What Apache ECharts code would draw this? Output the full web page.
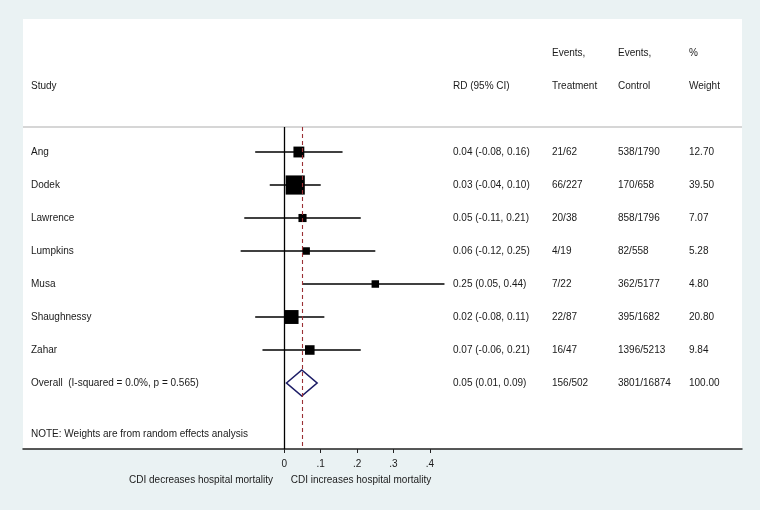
<!DOCTYPE html>
<html>
<head>
<meta charset="utf-8">
<script src="https://cdn.jsdelivr.net/npm/echarts@6/dist/echarts.min.js"></script>
<style>
html,body{margin:0;padding:0;background:#eaf2f3;}
#chart{width:760px;height:510px;}
</style>
</head>
<body>
<div id="chart"></div>
<script>
// ---- data ----
var studies = ['Ang', 'Dodek', 'Lawrence', 'Lumpkins', 'Musa', 'Shaughnessy', 'Zahar'];
var rd = [0.04, 0.03, 0.05, 0.06, 0.25, 0.02, 0.07];
var ciLow = [-0.08, -0.04, -0.11, -0.12, 0.05, -0.08, -0.06];
var ciHigh = [0.16, 0.10, 0.21, 0.25, 0.44, 0.11, 0.21];
var eventsTreatment = ['21/62', '66/227', '20/38', '4/19', '7/22', '22/87', '16/47'];
var eventsControl = ['538/1790', '170/658', '858/1796', '82/558', '362/5177', '395/1682', '1396/5213'];
var weights = [12.70, 39.50, 7.07, 5.28, 4.80, 20.80, 9.84];
var overallLabel = 'Overall  (I-squared = 0.0%, p = 0.565)';
var overallRD = 0.048;
var overallLow = 0.006;
var overallHigh = 0.090;
var overallTreatment = '156/502';
var overallControl = '3801/16874';
var overallWeight = 100.00;
var noteText = 'NOTE: Weights are from random effects analysis';
var tickValues = [0, 0.1, 0.2, 0.3, 0.4];
var leftAxisTitle = 'CDI decreases hospital mortality';
var rightAxisTitle = 'CDI increases hospital mortality';

// ---- layout ----
var TXT = '#1a1a1a';
var FONT = 'Liberation Sans, Arial, Helvetica, sans-serif';
var colStudy = 8, colRD = 430, colT = 529, colC = 595, colW = 666; // px from grid left
var nRows = studies.length;
var overallRow = nRows;
var noteRow = 8.545;

function fmt(v) { return v.toFixed(2); }

var textData = [];
function addText(x, y, s) { textData.push([x, y, s]); }
// headers
addText(colStudy, -2, 'Study');
addText(colRD, -2, 'RD (95% CI)');
addText(colT, -3, 'Events,');
addText(colT, -2, 'Treatment');
addText(colC, -3, 'Events,');
addText(colC, -2, 'Control');
addText(colW, -3, '%');
addText(colW, -2, 'Weight');
for (var i = 0; i < nRows; i++) {
  addText(colStudy, i, studies[i]);
  addText(colRD, i, fmt(rd[i]) + ' (' + fmt(ciLow[i]) + ', ' + fmt(ciHigh[i]) + ')');
  addText(colT, i, eventsTreatment[i]);
  addText(colC, i, eventsControl[i]);
  addText(colW, i, fmt(weights[i]));
}
addText(colStudy, overallRow, overallLabel);
addText(colRD, overallRow, fmt(overallRD) + ' (' + fmt(overallLow) + ', ' + fmt(overallHigh) + ')');
addText(colT, overallRow, overallTreatment);
addText(colC, overallRow, overallControl);
addText(colW, overallRow, fmt(overallWeight));
addText(colStudy, noteRow, noteText);

var ciData = studies.map(function (s, i) { return [ciLow[i], ciHigh[i], i]; });
var boxData = studies.map(function (s, i) {
  return { value: [rd[i], i], symbolSize: Math.max(7.5, 3.05 * Math.sqrt(weights[i])) };
});

var chart = echarts.init(document.getElementById('chart'), null, { renderer: 'canvas' });
var option = {
  backgroundColor: '#eaf2f3',
  animation: false,
  textStyle: { fontFamily: FONT },
  grid: { left: 23, right: 18, top: 127, bottom: 61, containLabel: false },
  xAxis: [{
    type: 'value', min: -0.7179, max: 1.2574, position: 'bottom',
    axisLine: { show: true, onZero: false, lineStyle: { color: '#222', width: 1.5 } },
    axisTick: { show: true, customValues: tickValues, length: 4, lineStyle: { color: '#222', width: 1 } },
    axisLabel: {
      show: true, customValues: tickValues, color: TXT, fontSize: 10, fontFamily: FONT, margin: 10,
      formatter: function (v) { return v === 0 ? '0' : String(+v.toFixed(1)).replace(/^0/, ''); }
    },
    splitLine: { show: false }
  }, {
    type: 'value', min: 0, max: 719, show: false
  }],
  yAxis: [{ type: 'value', inverse: true, min: -0.758, max: 9.0, show: false }],
  graphic: [
    { type: 'rect', z: -1, silent: true, shape: { x: 23, y: 19, width: 719, height: 430 }, style: { fill: '#ffffff' } },
    { type: 'line', z: 1, silent: true, shape: { x1: 23, y1: 127, x2: 742, y2: 127 }, style: { stroke: '#d6d6d6', lineWidth: 2 } },
    { type: 'text', silent: true, x: 201, y: 480, style: { text: leftAxisTitle, fill: TXT, font: '10px ' + FONT, textAlign: 'center', textVerticalAlign: 'middle' } },
    { type: 'text', silent: true, x: 361, y: 480, style: { text: rightAxisTitle, fill: TXT, font: '10px ' + FONT, textAlign: 'center', textVerticalAlign: 'middle' } }
  ],
  series: [
    {
      type: 'custom', name: 'ci', xAxisIndex: 0, yAxisIndex: 0, z: 3,
      data: ciData,
      encode: { x: [0, 1], y: 2 },
      renderItem: function (params, api) {
        var a = api.coord([api.value(0), api.value(2)]);
        var b = api.coord([api.value(1), api.value(2)]);
        return { type: 'line', shape: { x1: a[0], y1: a[1], x2: b[0], y2: b[1] }, style: { stroke: '#000', lineWidth: 1.5 } };
      },
      markLine: {
        silent: true, symbol: ['none', 'none'], label: { show: false },
        data: [
          { xAxis: 0, lineStyle: { color: '#000', width: 1.3, type: 'solid' } },
          { xAxis: overallRD, lineStyle: { color: '#9b3035', width: 1.1, type: [4, 3] } }
        ]
      }
    },
    {
      type: 'scatter', name: 'box', xAxisIndex: 0, yAxisIndex: 0, z: 4,
      symbol: 'rect', itemStyle: { color: '#000', opacity: 1 },
      data: boxData
    },
    {
      type: 'custom', name: 'overall', xAxisIndex: 0, yAxisIndex: 0, z: 4,
      data: [[overallLow, overallRD, overallHigh, overallRow]],
      encode: { x: [0, 2], y: 3 },
      renderItem: function (params, api) {
        var l = api.coord([api.value(0), api.value(3)]);
        var c = api.coord([api.value(1), api.value(3)]);
        var r = api.coord([api.value(2), api.value(3)]);
        return {
          type: 'polygon',
          shape: { points: [l, [c[0], c[1] - 13], r, [c[0], c[1] + 13]] },
          style: { stroke: '#1c1c66', fill: 'none', lineWidth: 1.6 }
        };
      }
    },
    {
      type: 'scatter', name: 'text', xAxisIndex: 1, yAxisIndex: 0, z: 5,
      clip: false, symbolSize: 0, silent: true,
      itemStyle: { opacity: 1 },
      data: textData,
      label: {
        show: true, position: 'right', distance: 0, color: TXT, fontSize: 10, fontFamily: FONT,
        formatter: function (p) { return p.data[2]; }
      }
    }
  ]
};
chart.setOption(option);
</script>
</body>
</html>
